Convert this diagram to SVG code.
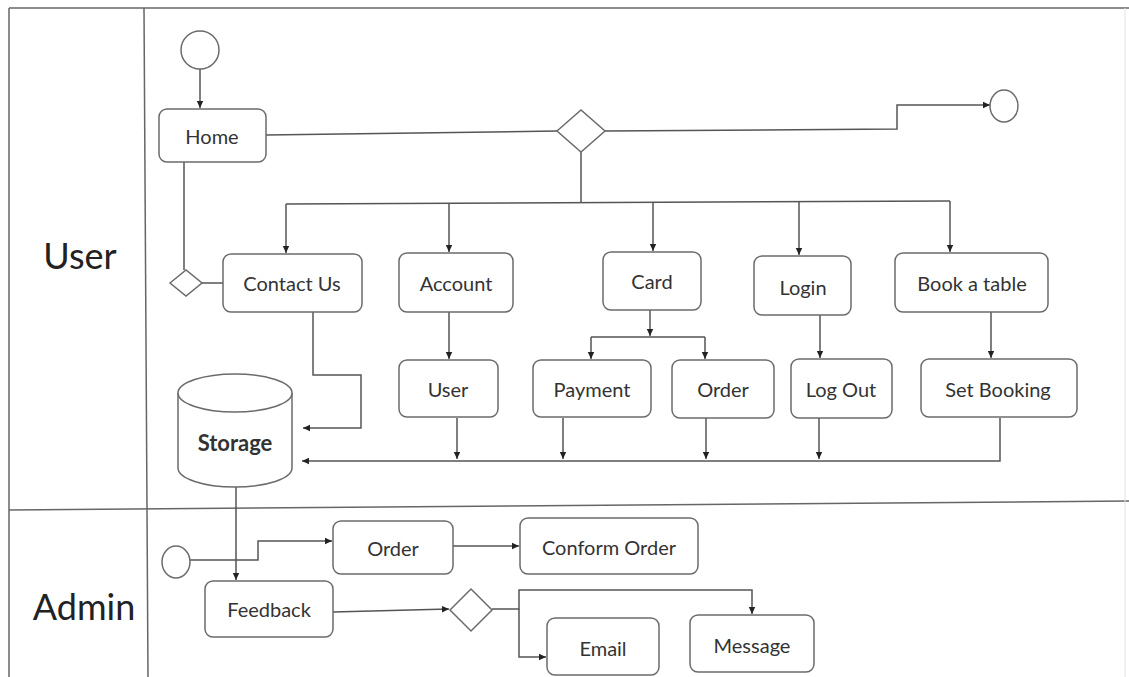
<svg xmlns="http://www.w3.org/2000/svg" width="1129" height="677" viewBox="0 0 1129 677">
<style>
.lane{stroke:#666;stroke-width:1.5;fill:none}
.box{fill:#fff;stroke:#6b6b6b;stroke-width:1.5}
.t{font-family:Lato,"Open Sans","DejaVu Sans",sans-serif;font-size:20px;fill:#333;text-anchor:middle;dominant-baseline:central}
.lt{font-family:Lato,"Open Sans","DejaVu Sans",sans-serif;font-size:36px;fill:#222;text-anchor:middle;dominant-baseline:central}
.c{stroke:#555;stroke-width:1.5;fill:none}
.ca{stroke:#555;stroke-width:1.5;fill:none;marker-end:url(#ah)}
.n{fill:#fff;stroke:#6b6b6b;stroke-width:1.5}
</style>
<defs>
<marker id="ah" markerUnits="userSpaceOnUse" markerWidth="8" markerHeight="8" refX="7" refY="4" orient="auto">
<path d="M0,0.8 L7,4 L0,7.2 z" fill="#222"/>
</marker>
</defs>
<rect width="1129" height="677" fill="#fff"/>
<g id="lanes">
<line class="lane" x1="9" y1="8" x2="1129" y2="8"/>
<line class="lane" x1="9" y1="8" x2="9" y2="677"/>
<line class="lane" x1="144" y1="8" x2="148" y2="677"/>
<line class="lane" x1="9" y1="510" x2="1129" y2="501"/>
<line x1="1125" y1="8" x2="1125" y2="677" stroke="#e2e2e2" stroke-width="1"/>
<text class="lt" x="80" y="255">User</text>
<text class="lt" x="84" y="606">Admin</text>
</g>
<g id="connectors">
<path class="ca" d="M200,69 V108"/>
<path class="c" d="M266,135 L557,131"/>
<path class="ca" d="M605,131 L897,129 V105 H990"/>
<path class="c" d="M581,152 V203"/>
<path class="c" d="M286,204 L950,201"/>
<path class="ca" d="M286,204 V253"/>
<path class="ca" d="M449,203 V252"/>
<path class="ca" d="M653,202 V251"/>
<path class="ca" d="M799,201 V255"/>
<path class="ca" d="M950,201 V252"/>
<path class="c" d="M184,162 V270"/>
<path class="c" d="M201,283 H223"/>
<path class="ca" d="M313,312 V375 H361 V428 H303"/>
<path class="ca" d="M449,312 V359"/>
<path class="ca" d="M650,310 V336"/>
<path class="c" d="M591,337 H705"/>
<path class="ca" d="M591,337 V359"/>
<path class="ca" d="M705,337 V359"/>
<path class="ca" d="M820,315 V358"/>
<path class="ca" d="M991,312 V358"/>
<path class="ca" d="M1000,418 V461 H302"/>
<path class="ca" d="M457,418 V459"/>
<path class="ca" d="M563,418 V459"/>
<path class="ca" d="M706,418 V459"/>
<path class="ca" d="M819,418 V459"/>
<path class="ca" d="M236,487 V580"/>
<path class="ca" d="M190,560 H258 V541 H332"/>
<path class="ca" d="M453,546 H519"/>
<path class="ca" d="M333,612 L449,609"/>
<path class="ca" d="M492,609 H519 V590 H752 V614"/>
<path class="ca" d="M519,609 V657 H546"/>
</g>
<g id="start-user"><circle class="n" cx="200" cy="50" r="19"/></g>
<g id="end-user"><ellipse class="n" cx="1004" cy="106" rx="14" ry="16"/></g>
<g id="home"><rect class="box" x="159" y="109" width="107" height="53" rx="8"/><text class="t" x="212" y="136">Home</text></g>
<g id="decision-main"><polygon class="n" points="557,131 581,110 605,131 581,152"/></g>
<g id="decision-small"><polygon class="n" points="170,283 186,270 202,283 186,296"/></g>
<g id="contact"><rect class="box" x="223" y="254" width="139" height="58" rx="8"/><text class="t" x="292" y="283">Contact Us</text></g>
<g id="account"><rect class="box" x="399" y="253" width="114" height="59" rx="8"/><text class="t" x="456" y="283">Account</text></g>
<g id="card"><rect class="box" x="603" y="252" width="98" height="58" rx="8"/><text class="t" x="652" y="281">Card</text></g>
<g id="login"><rect class="box" x="754" y="256" width="97" height="59" rx="8"/><text class="t" x="803" y="287">Login</text></g>
<g id="book"><rect class="box" x="895" y="253" width="153" height="59" rx="8"/><text class="t" x="972" y="283">Book a table</text></g>
<g id="user"><rect class="box" x="399" y="360" width="99" height="57" rx="8"/><text class="t" x="448" y="389">User</text></g>
<g id="payment"><rect class="box" x="533" y="360" width="118" height="57" rx="8"/><text class="t" x="592" y="389">Payment</text></g>
<g id="order-user"><rect class="box" x="672" y="360" width="102" height="58" rx="8"/><text class="t" x="723" y="389">Order</text></g>
<g id="logout"><rect class="box" x="791" y="359" width="101" height="59" rx="8"/><text class="t" x="841" y="389">Log Out</text></g>
<g id="setbooking"><rect class="box" x="921" y="359" width="156" height="58" rx="8"/><text class="t" x="998" y="389">Set Booking</text></g>
<g id="storage">
<path class="n" d="M178,393 V468 A57,19 0 0 0 292,468 V393"/>
<ellipse class="n" cx="235" cy="393" rx="57" ry="19"/>
<text class="t" x="235" y="442" style="font-weight:bold;font-size:22px">Storage</text>
</g>
<g id="start-admin"><ellipse class="n" cx="176" cy="562" rx="14" ry="16"/></g>
<g id="order-admin"><rect class="box" x="333" y="521" width="120" height="53" rx="8"/><text class="t" x="393" y="548">Order</text></g>
<g id="conform"><rect class="box" x="520" y="518" width="178" height="56" rx="8"/><text class="t" x="609" y="547">Conform Order</text></g>
<g id="feedback"><rect class="box" x="205" y="581" width="128" height="56" rx="8"/><text class="t" x="269" y="609">Feedback</text></g>
<g id="decision-admin"><polygon class="n" points="450,610 471,589 492,610 471,631"/></g>
<g id="email"><rect class="box" x="547" y="618" width="112" height="57" rx="8"/><text class="t" x="603" y="648">Email</text></g>
<g id="message"><rect class="box" x="690" y="615" width="124" height="57" rx="8"/><text class="t" x="752" y="645">Message</text></g>
</svg>
